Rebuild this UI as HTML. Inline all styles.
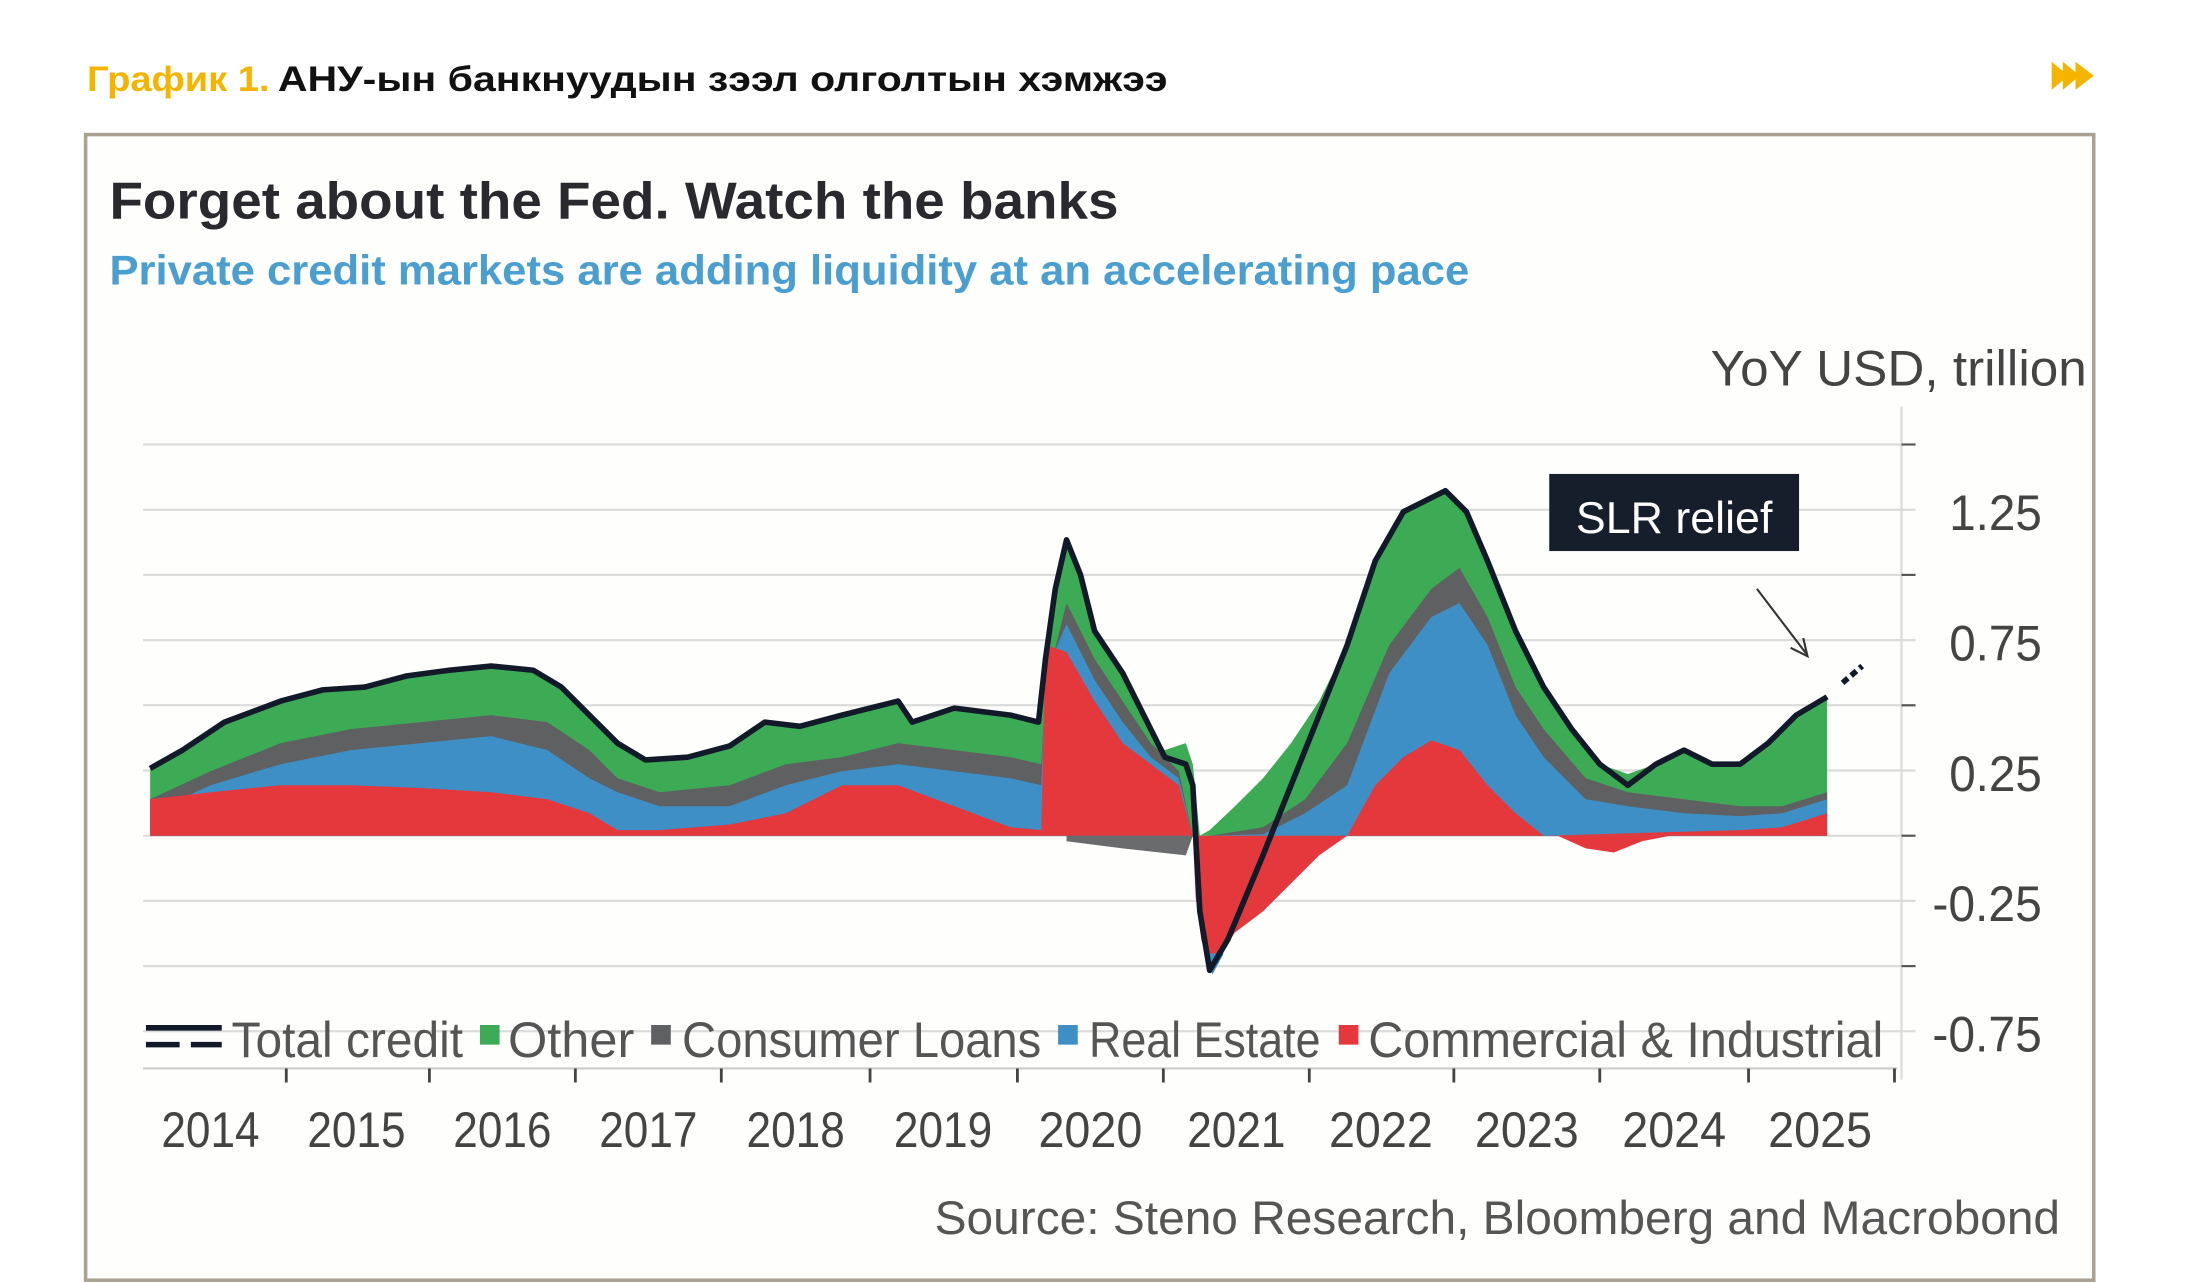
<!DOCTYPE html>
<html><head><meta charset="utf-8"><style>html,body{margin:0;padding:0;background:#fff}svg{display:block}</style></head>
<body>
<svg width="2199" height="1283" viewBox="0 0 1567 915" preserveAspectRatio="none" xmlns="http://www.w3.org/2000/svg" font-family="Liberation Sans, sans-serif">
<rect width="1567" height="915" fill="#fff"/>
<text x="62" y="65" font-size="25" font-weight="bold" fill="#f5b400" textLength="130" lengthAdjust="spacingAndGlyphs">График 1.</text>
<text x="198" y="65" font-size="25" font-weight="bold" fill="#111" textLength="634" lengthAdjust="spacingAndGlyphs">АНУ-ын банкнуудын зээл олголтын хэмжээ</text>
<polygon points="1462,44 1474,54 1462,64" fill="#f5b400"/><polygon points="1470,44 1482,54 1470,64" fill="#f5b400"/><polygon points="1479,44 1492,54 1479,64" fill="#f5b400"/>
<rect x="61" y="96" width="1431" height="817" fill="#fefefc" stroke="#a9a293" stroke-width="2.5"/>
<text x="78" y="156" font-size="37" font-weight="bold" fill="#2a2a2e" textLength="719" lengthAdjust="spacingAndGlyphs">Forget about the Fed. Watch the banks</text>
<text x="78" y="203" font-size="30" font-weight="bold" fill="#4a9ed0" textLength="969" lengthAdjust="spacingAndGlyphs">Private credit markets are adding liquidity at an accelerating pace</text>
<text x="1487" y="275" font-size="36" fill="#444" text-anchor="end" textLength="268" lengthAdjust="spacingAndGlyphs">YoY USD, trillion</text>
<g stroke="#dcdcdc" stroke-width="1.6">
<line x1="102" x2="1365" y1="317" y2="317"/><line x1="102" x2="1365" y1="363.5" y2="363.5"/><line x1="102" x2="1365" y1="410" y2="410"/><line x1="102" x2="1365" y1="456.5" y2="456.5"/><line x1="102" x2="1365" y1="503" y2="503"/><line x1="102" x2="1365" y1="549.5" y2="549.5"/><line x1="102" x2="1365" y1="596" y2="596"/><line x1="102" x2="1365" y1="642.5" y2="642.5"/><line x1="102" x2="1365" y1="689" y2="689"/><line x1="102" x2="1365" y1="735.5" y2="735.5"/>
<line x1="1355" x2="1355" y1="290" y2="770"/>
</g>
<g stroke="#555" stroke-width="1.5"><line x1="1355" x2="1365" y1="317" y2="317"/><line x1="1355" x2="1365" y1="410" y2="410"/><line x1="1355" x2="1365" y1="503" y2="503"/><line x1="1355" x2="1365" y1="596" y2="596"/><line x1="1355" x2="1365" y1="689" y2="689"/></g>
<polygon fill="#3daa55" points="107,596 107,548 130,535 160,515 200,500 230,492 260,490 290,482 320,478 350,475 380,478 400,490 420,510 440,530 460,542 490,540 520,532 545,515 570,518 600,510 640,500 650,515 680,505 720,510 740,515 745,470 752,420 760,385 770,410 780,450 800,480 820,520 830,535 845,530 850,545 855,596 862,592 880,575 900,555 920,530 940,500 960,460 980,400 1000,365 1020,355 1030,350 1045,365 1060,400 1080,450 1100,490 1120,520 1140,545 1160,552 1180,545 1200,535 1220,545 1240,545 1260,530 1280,510 1302,497 1302,596"/>
<polygon fill="#5f6062" points="107,596 107,570 150,550 200,530 250,520 300,515 350,510 390,515 420,535 440,555 470,565 520,560 560,545 600,540 640,530 680,535 720,540 742,545 745,490 760,430 780,470 800,500 820,530 840,550 850,596 862,596 900,590 930,570 960,530 990,460 1020,420 1040,405 1060,440 1080,490 1100,520 1130,555 1160,565 1200,570 1240,575 1270,575 1302,565 1302,596"/>
<polygon fill="#3e8fc6" points="107,596 107,580 150,560 200,545 250,535 300,530 350,525 390,535 420,555 440,565 470,575 520,575 560,560 600,550 640,545 680,550 720,555 742,560 745,480 760,445 780,485 800,515 820,540 840,555 850,596 862,596 900,595 930,580 960,560 990,480 1020,440 1040,430 1060,460 1080,510 1100,540 1130,570 1160,575 1200,580 1240,582 1270,580 1302,570 1302,596"/>
<polygon fill="#e4383d" points="107,596 107,570 150,565 200,560 250,560 300,562 350,565 390,570 420,580 440,592 470,592 520,588 560,580 600,560 640,560 680,575 720,590 742,592 745,460 760,465 780,500 800,530 820,545 840,560 850,596"/>
<polygon fill="#e4383d" points="960,596 980,560 1000,540 1020,528 1040,535 1060,560 1080,580 1100,596 1240,592 1270,590 1302,580 1302,596"/>
<polygon fill="#6a6b6d" points="760,596 760,600 800,605 845,610 850,596"/>
<polygon fill="#e4383d" points="850,596 852,640 856,670 862,690 870,680 880,665 900,650 920,630 940,610 960,596"/>
<polygon fill="#3e8fc6" points="858,680 864,695 872,680"/>
<polygon fill="#e4383d" points="1110,596 1130,605 1150,608 1170,600 1190,596"/>
<polyline fill="none" stroke="#121a2a" stroke-width="4" stroke-linejoin="round" points="107,548 130,535 160,515 200,500 230,492 260,490 290,482 320,478 350,475 380,478 400,490 420,510 440,530 460,542 490,540 520,532 545,515 570,518 600,510 640,500 650,515 680,505 720,510 740,515 745,470 752,420 760,385 770,410 780,450 800,480 820,520 830,540 845,545 850,560 855,650 862,692 875,670 900,610 920,560 940,510 960,460 980,400 1000,365 1020,355 1030,350 1045,365 1060,400 1080,450 1100,490 1120,520 1140,545 1160,560 1180,545 1200,535 1220,545 1240,545 1260,530 1280,510 1302,497"/>
<line x1="1313" y1="487" x2="1327" y2="475" stroke="#121a2a" stroke-width="4" stroke-dasharray="5,3"/>
<rect x="1104" y="338" width="178" height="55" fill="#161d2b"/>
<text x="1193" y="380" font-size="32" fill="#fff" text-anchor="middle" textLength="140" lengthAdjust="spacingAndGlyphs">SLR relief</text>
<line x1="1252" y1="420" x2="1287" y2="466" stroke="#333" stroke-width="1.5"/>
<polyline points="1276,462 1288,468 1285,455" fill="none" stroke="#333" stroke-width="1.5"/>
<g font-size="36" fill="#444" text-anchor="end">
<text x="1455" y="378" textLength="66" lengthAdjust="spacingAndGlyphs">1.25</text>
<text x="1455" y="471" textLength="66" lengthAdjust="spacingAndGlyphs">0.75</text>
<text x="1455" y="564" textLength="66" lengthAdjust="spacingAndGlyphs">0.25</text>
<text x="1455" y="657" textLength="78" lengthAdjust="spacingAndGlyphs">-0.25</text>
<text x="1455" y="750" textLength="78" lengthAdjust="spacingAndGlyphs">-0.75</text>
</g>
<line x1="104" y1="733" x2="158" y2="733" stroke="#121a2a" stroke-width="4"/>
<line x1="104" y1="745" x2="128" y2="745" stroke="#121a2a" stroke-width="4"/><line x1="136" y1="745" x2="158" y2="745" stroke="#121a2a" stroke-width="4"/>
<rect x="342" y="731" width="14" height="14" fill="#3daa55"/>
<rect x="464" y="731" width="14" height="14" fill="#5f6062"/>
<rect x="754" y="731" width="14" height="14" fill="#3e8fc6"/>
<rect x="954" y="731" width="14" height="14" fill="#e4383d"/>
<g font-size="36" fill="#555">
<text x="165" y="754" textLength="165" lengthAdjust="spacingAndGlyphs">Total credit</text>
<text x="362" y="754" textLength="90" lengthAdjust="spacingAndGlyphs">Other</text>
<text x="486" y="754" textLength="256" lengthAdjust="spacingAndGlyphs">Consumer Loans</text>
<text x="776" y="754" textLength="165" lengthAdjust="spacingAndGlyphs">Real Estate</text>
<text x="975" y="754" textLength="367" lengthAdjust="spacingAndGlyphs">Commercial &amp; Industrial</text>
</g>
<line x1="102" x2="1352" y1="762" y2="762" stroke="#ccc" stroke-width="1.5"/>
<g stroke="#444" stroke-width="2">
<line x1="204" x2="204" y1="762" y2="772"/><line x1="306" x2="306" y1="762" y2="772"/><line x1="410" x2="410" y1="762" y2="772"/><line x1="514" x2="514" y1="762" y2="772"/><line x1="620" x2="620" y1="762" y2="772"/><line x1="725" x2="725" y1="762" y2="772"/><line x1="829" x2="829" y1="762" y2="772"/><line x1="933" x2="933" y1="762" y2="772"/><line x1="1036" x2="1036" y1="762" y2="772"/><line x1="1140" x2="1140" y1="762" y2="772"/><line x1="1246" x2="1246" y1="762" y2="772"/><line x1="1350" x2="1350" y1="762" y2="772"/>
</g>
<g font-size="36" fill="#444" text-anchor="middle">
<text x="150" y="818" textLength="70" lengthAdjust="spacingAndGlyphs">2014</text>
<text x="254" y="818" textLength="70" lengthAdjust="spacingAndGlyphs">2015</text>
<text x="358" y="818" textLength="70" lengthAdjust="spacingAndGlyphs">2016</text>
<text x="462" y="818" textLength="70" lengthAdjust="spacingAndGlyphs">2017</text>
<text x="567" y="818" textLength="70" lengthAdjust="spacingAndGlyphs">2018</text>
<text x="672" y="818" textLength="70" lengthAdjust="spacingAndGlyphs">2019</text>
<text x="777" y="818" textLength="74" lengthAdjust="spacingAndGlyphs">2020</text>
<text x="881" y="818" textLength="70" lengthAdjust="spacingAndGlyphs">2021</text>
<text x="984" y="818" textLength="74" lengthAdjust="spacingAndGlyphs">2022</text>
<text x="1088" y="818" textLength="74" lengthAdjust="spacingAndGlyphs">2023</text>
<text x="1193" y="818" textLength="74" lengthAdjust="spacingAndGlyphs">2024</text>
<text x="1297" y="818" textLength="74" lengthAdjust="spacingAndGlyphs">2025</text>
</g>
<text x="1468" y="880" font-size="34" fill="#555" text-anchor="end" textLength="802" lengthAdjust="spacingAndGlyphs">Source: Steno Research, Bloomberg and Macrobond</text>
</svg>
</body></html>
